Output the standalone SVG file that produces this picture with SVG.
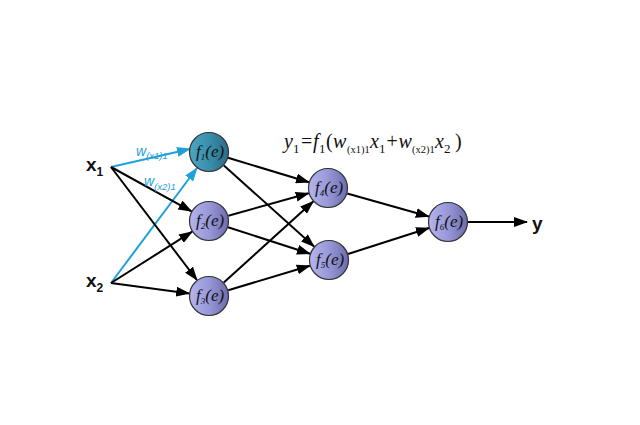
<svg xmlns="http://www.w3.org/2000/svg" width="640" height="425" viewBox="0 0 640 425">
<defs>
<linearGradient id="gp" x1="0" y1="0" x2="1" y2="0">
<stop offset="0" stop-color="#b4b4f0"/>
<stop offset="0.5" stop-color="#9898d8"/>
<stop offset="1" stop-color="#6c6cac"/>
</linearGradient>
<linearGradient id="gt" x1="0" y1="0" x2="1" y2="0">
<stop offset="0" stop-color="#4aa6c2"/>
<stop offset="0.5" stop-color="#3a8fab"/>
<stop offset="1" stop-color="#2a6c86"/>
</linearGradient>
<marker id="ab" markerUnits="userSpaceOnUse" markerWidth="14" markerHeight="10" refX="13" refY="5" orient="auto">
<path d="M0,0 L14,5 L0,10 z" fill="#000"/>
</marker>
<marker id="au" markerUnits="userSpaceOnUse" markerWidth="14" markerHeight="10" refX="13" refY="5" orient="auto">
<path d="M0,0 L14,5 L0,10 z" fill="#1fa0d8"/>
</marker>
</defs>
<style>
.e{stroke:#000;stroke-width:2;fill:none;marker-end:url(#ab)}
.eb{stroke:#1fa0d8;stroke-width:2;fill:none;marker-end:url(#au)}
.n{fill:url(#gp);stroke:#333;stroke-width:1.2}
.nt{fill:url(#gt);stroke:#333;stroke-width:1.2}
.f{font-family:"Liberation Serif",serif;font-style:italic;font-size:17px;fill:#111}
.s{font-size:9px}
.x{font-family:"Liberation Sans",sans-serif;font-weight:bold;font-size:19px;fill:#111}
.xs{font-size:12px}
.w{font-family:"Liberation Sans",sans-serif;font-style:italic;font-size:14px;fill:#1fa0d8}
.ws{font-size:9.5px}
.eq{font-family:"Liberation Serif",serif;font-size:20px;fill:#111}
.i{font-style:italic}
.q{font-size:13px}
.qs{font-size:10.5px}
</style>
<rect width="640" height="425" fill="#fff"/>
<g id="connectors">
<line class="eb" x1="111" y1="167" x2="190" y2="149"/>
<line class="eb" x1="111" y1="283" x2="197" y2="168"/>
<line class="e" x1="111" y1="167" x2="191.5" y2="211.3"/>
<line class="e" x1="111" y1="167" x2="196.9" y2="280"/>
<line class="e" x1="111" y1="283" x2="192.1" y2="231.7"/>
<line class="e" x1="111" y1="283" x2="189.2" y2="293.4"/>
<line class="e" x1="228" y1="157.8" x2="308.9" y2="182.2"/>
<line class="e" x1="223.9" y1="165.4" x2="314.1" y2="246.6"/>
<line class="e" x1="228.3" y1="215.7" x2="308.7" y2="193.3"/>
<line class="e" x1="228" y1="227.2" x2="310" y2="253.8"/>
<line class="e" x1="223.8" y1="282.6" x2="313.2" y2="201.4"/>
<line class="e" x1="228.2" y1="290.3" x2="309.8" y2="265.7"/>
<line class="e" x1="347.2" y1="193.5" x2="428.8" y2="216.5"/>
<line class="e" x1="348" y1="254" x2="429" y2="228"/>
<line class="e" x1="468" y1="222" x2="527" y2="222"/>
</g>
<g id="x1"><text class="x" x="86" y="171">x<tspan class="xs" dy="5">1</tspan></text></g>
<g id="x2"><text class="x" x="86" y="287">x<tspan class="xs" dy="5">2</tspan></text></g>
<g id="y"><text class="x" x="532" y="230">y</text></g>
<g id="w1"><text class="w" x="136" y="156">w<tspan class="ws" dy="3">(x1)1</tspan></text></g>
<g id="w2"><text class="w" x="144" y="186">w<tspan class="ws" dy="4">(x2)1</tspan></text></g>
<g id="f1"><circle class="nt" cx="209" cy="152" r="19.5"/><text class="f" x="196" y="157">f<tspan class="s" dy="3">1</tspan><tspan dy="-3">(e)</tspan></text></g>
<g id="f2"><circle class="n" cx="209" cy="221" r="19.5"/><text class="f" x="196" y="226">f<tspan class="s" dy="3">2</tspan><tspan dy="-3">(e)</tspan></text></g>
<g id="f3"><circle class="n" cx="209" cy="296" r="19.5"/><text class="f" x="196" y="301">f<tspan class="s" dy="3">3</tspan><tspan dy="-3">(e)</tspan></text></g>
<g id="f4"><circle class="n" cx="328" cy="188" r="19.5"/><text class="f" x="315" y="193">f<tspan class="s" dy="3">4</tspan><tspan dy="-3">(e)</tspan></text></g>
<g id="f5"><circle class="n" cx="329" cy="260" r="19.5"/><text class="f" x="316" y="265">f<tspan class="s" dy="3">5</tspan><tspan dy="-3">(e)</tspan></text></g>
<g id="f6"><circle class="n" cx="448" cy="222" r="19.5"/><text class="f" x="435" y="227">f<tspan class="s" dy="3">6</tspan><tspan dy="-3">(e)</tspan></text></g>
<g id="formula"><text class="eq" y="148"><tspan class="i" x="284">y</tspan><tspan class="q" x="293" y="153">1</tspan><tspan x="301" y="148">=</tspan><tspan class="i" x="313">f</tspan><tspan class="q" x="319" y="153">1</tspan><tspan x="326" y="148">(</tspan><tspan class="i" x="333">w</tspan><tspan class="qs" x="347" y="153">(x1)1</tspan><tspan class="i" x="370" y="148">x</tspan><tspan class="q" x="379" y="153">1</tspan><tspan x="386.5" y="148">+</tspan><tspan class="i" x="398.5">w</tspan><tspan class="qs" x="412" y="153">(x2)1</tspan><tspan class="i" x="435" y="148">x</tspan><tspan class="q" x="444" y="153">2</tspan><tspan x="455" y="148">)</tspan></text></g>
</svg>
